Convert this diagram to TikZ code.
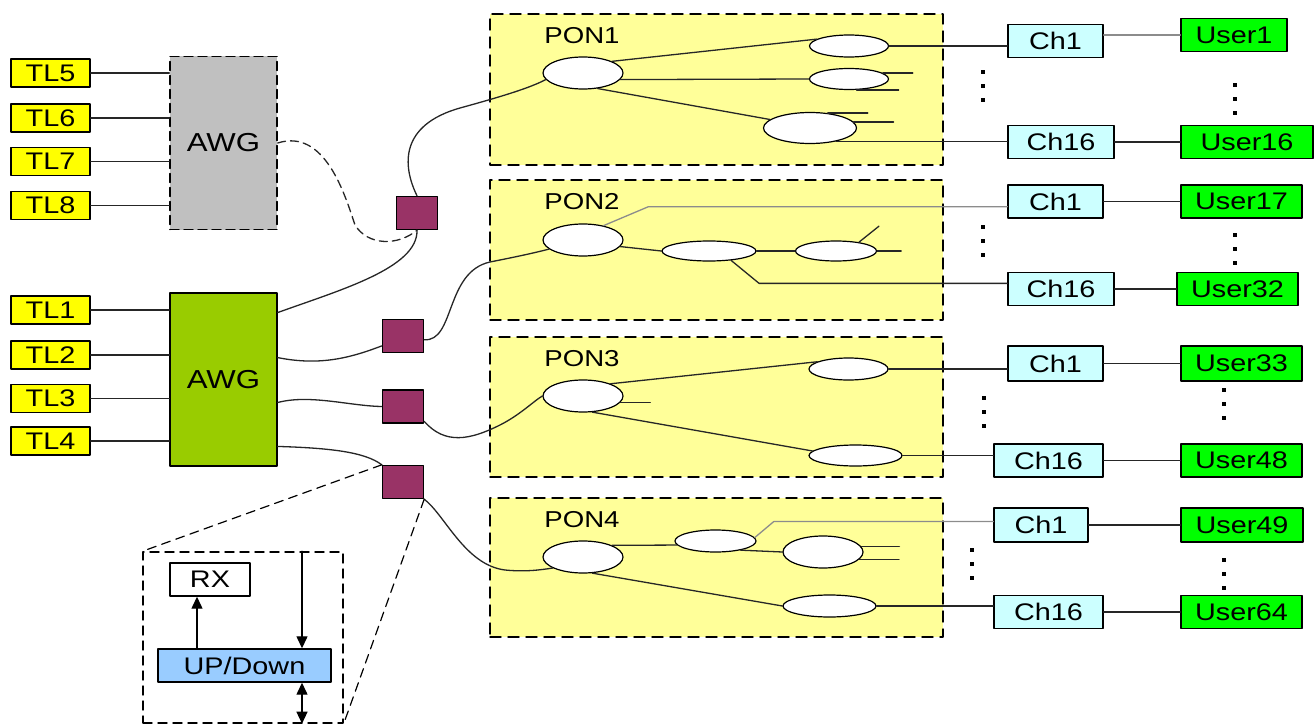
\documentclass[tikz,border=0pt]{standalone}
\usepackage{fontspec}
\newfontfamily\diagfont[FakeStretch=1.2]{Liberation Sans}
\usetikzlibrary{shapes.geometric,arrows.meta}

\definecolor{tlyellow}{HTML}{FFFF00}
\definecolor{awggray}{HTML}{C0C0C0}
\definecolor{awggreen}{HTML}{99CC00}
\definecolor{sqmagenta}{HTML}{993366}
\definecolor{ponyellow}{HTML}{FFFF99}
\definecolor{chcyan}{HTML}{CCFFFF}
\definecolor{usergreen}{HTML}{00FF00}
\definecolor{updownblue}{HTML}{99CCFF}

\tikzset{
  labelbox/.style={draw, line width=1.4pt, inner sep=0pt, font=\diagfont\fontsize{24}{28}\selectfont},
  tlbox/.style={labelbox, fill=tlyellow, minimum width=79pt, minimum height=28pt},
  awgbox/.style={labelbox, minimum width=107pt, minimum height=173pt, font=\diagfont\fontsize{26}{30}\selectfont},
  sqbox/.style={draw, line width=1.4pt, fill=sqmagenta, minimum width=41pt, minimum height=33pt, inner sep=0pt},
  ponbox/.style={draw, dash pattern=on 11pt off 7pt, line width=1.4pt, fill=ponyellow, minimum width=453pt, inner sep=0pt},
  ponlabel/.style={inner sep=0pt, font=\diagfont\fontsize{23}{28}\selectfont},
  splitter/.style 2 args={ellipse, draw, line width=1.2pt, fill=white, inner sep=0pt, minimum width=#1pt, minimum height=#2pt},
  chbox/.style={labelbox, fill=chcyan, minimum height=33pt},
  userbox/.style={labelbox, fill=usergreen, minimum height=33pt},
  fibre/.style={line width=1.3pt, black!85},
  fibregray/.style={line width=1.3pt, black!45},
  zoomline/.style={line width=1.2pt, dash pattern=on 9pt off 6pt},
  sig/.style={line width=1.3pt, -{Triangle[length=12pt,width=11pt]}},
  sigboth/.style={line width=1.3pt, {Triangle[length=12pt,width=11pt]}-{Triangle[length=12pt,width=11pt]}},
}

\begin{document}
\begin{tikzpicture}[x=1pt, y=-1pt, line cap=round, line join=round]

  %% ════ PON 区域（底层）════
  \node[ponbox, minimum height=151pt] (pon1) at (716.5,89.5) {};
  \node[ponbox, minimum height=140pt] (pon2) at (716.5,250) {};
  \node[ponbox, minimum height=140pt] (pon3) at (716.5,407) {};
  \node[ponbox, minimum height=139pt] (pon4) at (716.5,567.5) {};
  \node[ponlabel] (pon1lbl) at (582,36) {PON1};
  \node[ponlabel] (pon2lbl) at (582,202) {PON2};
  \node[ponlabel] (pon3lbl) at (582,359) {PON3};
  \node[ponlabel] (pon4lbl) at (582,520) {PON4};

  %% ════ 光源 TL 与两个 AWG ════
  \node[tlbox] (tl5) at (50.5,73) {TL5};
  \node[tlbox] (tl6) at (50.5,118) {TL6};
  \node[tlbox] (tl7) at (50.5,161.5) {TL7};
  \node[tlbox] (tl8) at (50.5,205.5) {TL8};
  \node[tlbox] (tl1) at (50.5,310) {TL1};
  \node[tlbox] (tl2) at (50.5,355) {TL2};
  \node[tlbox] (tl3) at (50.5,398.5) {TL3};
  \node[tlbox] (tl4) at (50.5,441) {TL4};
  \node[awgbox, fill=awggray, dash pattern=on 9pt off 5pt] (awga) at (223.5,143) {AWG};
  \node[awgbox, fill=awggreen] (awgb) at (223.5,379.5) {AWG};
  \foreach \t in {tl5,tl6,tl7,tl8} \draw[fibre] (\t.east) -- (\t.east -| awga.west);
  \foreach \t in {tl1,tl2,tl3,tl4} \draw[fibre] (\t.east) -- (\t.east -| awgb.west);

  %% ════ 方块（远端节点）════
  \node[sqbox] (sq1) at (417,213) {};
  \node[sqbox] (sq2) at (403,336) {};
  \node[sqbox] (sq3) at (403,406.5) {};
  \node[sqbox] (sq4) at (403,482) {};

  %% ════ 分光器（椭圆）════
  \node[splitter={80}{32}] (p1main) at (583,73) {};
  \node[splitter={79}{22}] (p1e1) at (849,46) {};
  \node[splitter={79}{21}] (p1e2) at (849,79) {};
  \node[splitter={93}{31}] (p1e3) at (810,128) {};
  \node[splitter={80}{32}] (p2main) at (583,240) {};
  \node[splitter={94}{20}] (p2e1) at (709,251) {};
  \node[splitter={81}{20}] (p2e2) at (836,251) {};
  \node[splitter={80}{32}] (p3main) at (583,396) {};
  \node[splitter={79}{22}] (p3e1) at (848.5,369) {};
  \node[splitter={93}{21}] (p3e2) at (855.5,455.5) {};
  \node[splitter={80}{32}] (p4main) at (583,557) {};
  \node[splitter={81}{22}] (p4e1) at (715.5,541) {};
  \node[splitter={80}{32}] (p4e2) at (823,552) {};
  \node[splitter={93}{22}] (p4e3) at (829.5,606) {};

  %% ════ 信道与用户 ════
  \node[chbox, minimum width=95pt] (ch1a) at (1055.5,41) {Ch1};
  \node[chbox, minimum width=106pt] (ch16a) at (1061,142) {Ch16};
  \node[chbox, minimum width=95pt] (ch1b) at (1055.5,201.5) {Ch1};
  \node[chbox, minimum width=106pt] (ch16b) at (1061,289) {Ch16};
  \node[chbox, minimum width=95pt, minimum height=35pt] (ch1c) at (1055.5,363.5) {Ch1};
  \node[chbox, minimum width=109pt] (ch16c) at (1048.5,460.5) {Ch16};
  \node[chbox, minimum width=94pt, minimum height=34pt] (ch1d) at (1041,525) {Ch1};
  \node[chbox, minimum width=109pt] (ch16d) at (1048.5,612) {Ch16};
  \node[userbox, minimum width=106pt] (user1) at (1234,35) {User1};
  \node[userbox, minimum width=132pt] (user16) at (1247,142) {User16};
  \node[userbox, minimum width=121pt] (user17) at (1241.5,201.5) {User17};
  \node[userbox, minimum width=121pt] (user32) at (1237.5,289) {User32};
  \node[userbox, minimum width=121pt, minimum height=35pt] (user33) at (1241.5,363.5) {User33};
  \node[userbox, minimum width=121pt] (user48) at (1241.5,460.5) {User48};
  \node[userbox, minimum width=122pt, minimum height=34pt] (user49) at (1242,525) {User49};
  \node[userbox, minimum width=121pt] (user64) at (1241.5,612) {User64};
  \draw[fibregray] (user1.west -| ch1a.east) -- (user1.west);
  \foreach \c/\u in {ch16a/user16, ch1b/user17, ch16b/user32, ch1c/user33, ch16c/user48, ch1d/user49, ch16d/user64}
    \draw[fibre] (\u.west -| \c.east) -- (\u.west);

  % 省略号：三个小方点
  \foreach \x/\y in {983/72, 983/227, 984/398, 972/550, 1235/85, 1235/235, 1224/390, 1224/560}
    \foreach \k in {0,1,2}
      \fill (\x-2.2, \y+14*\k-1.7) rectangle ++(4.4,3.4);

  %% ════ 光纤曲线 ════
  \draw[fibre, dash pattern=on 8pt off 5pt] (awga.east) .. controls (325,128) and (345,195) .. (355,225) .. controls (368,246) and (398,246) .. (sq1.south);
  \draw[fibre] (sq1.north) .. controls (402,165) and (400,125) .. (460,108) .. controls (500,97) and (530,88) .. (p1main.190);
  \draw[fibre] (sq1.south) .. controls (418,268) and (340,290) .. (awgb.51);
  \draw[fibre] (awgb.22) .. controls (320,366) and (350,358) .. (sq2.205);
  \draw[fibre] (sq2.350) .. controls (455,342) and (445,272) .. (490,262) .. controls (510,258) and (530,254) .. (p2main.195);
  \draw[fibre] (awgb.-23) .. controls (310,394) and (350,406) .. (sq3.west);
  \draw[fibre] (sq3.-35) .. controls (445,445) and (470,440) .. (500,425) .. controls (520,415) and (535,400) .. (p3main.west);
  \draw[fibre] (awgb.-51) .. controls (330,448) and (365,452) .. (sq4.north west);
  \draw[fibre] (sq4.south east) .. controls (445,515) and (465,565) .. (505,570) .. controls (525,572) and (540,570) .. (p4main.200);

  %% ════ PON1 内部 ════
  \draw[fibre] (p1main.22) -- (p1e1.168);
  \draw[fibre] (p1main.-10) -- (p1e2.west);
  \draw[fibre] (p1main.-47) -- (p1e3.168);
  \draw[fibre] (p1e2.10) -- ++(30,0);
  \draw[fibre] (p1e2.-55) -- ++(42,0);
  \draw[fibre] (p1e3.40) -- ++(40,0);
  \draw[fibre] (p1e3.8) -- ++(40,0);
  \draw[fibre] (p1e1.east) -- (p1e1.east -| ch1a.west);
  \draw[fibre] (p1e3.-27) -- (p1e3.-27 -| ch16a.west);

  %% ════ PON2 内部 ════
  \draw[fibregray] (p2main.35) -- ++(45,-19) coordinate (p2bend) -- (p2bend -| ch1b.west);
  \draw[fibre] (p2main.-10) -- (p2e1.west);
  \draw[fibre] (p2e1.east) -- (p2e2.west);
  \draw[fibre] (p2e2.21) -- ++(20,-16);
  \draw[fibre] (p2e2.east) -- ++(24,0);
  \draw[fibre] (p2e1.-23) -- ++(28,23) coordinate (p2bend2) -- (p2bend2 -| ch16b.west);

  %% ════ PON3 内部 ════
  \draw[fibre] (p3main.24) -- (p3e1.167);
  \draw[fibre] (p3main.-10) -- ++(30,0);
  \draw[fibre] (p3main.-60) -- (p3e2.174);
  \draw[fibre] (p3e1.east) -- (p3e1.east -| ch1c.west);
  \draw[fibre] (p3e2.east) -- (p3e2.east -| ch16c.west);

  %% ════ PON4 内部 ════
  \draw[fibre] (p4main.22) -- (p4e1.186);
  \draw[fibregray] (p4e1.5) -- ++(19,-16) coordinate (p4bend) -- (p4bend -| ch1d.west);
  \draw[fibre] (p4e1.-20) -- (p4e2.west);
  \draw[fibre] (p4e2.8) -- ++(38,0);
  \draw[fibre] (p4e2.-12) -- ++(40,0);
  \draw[fibre] (p4main.-60) -- (p4e3.west);
  \draw[fibre] (p4e3.east) -- (p4e3.east -| ch16d.west);

  %% ════ 放大框（收发模块）════
  \node[draw, zoomline, line width=1.4pt, minimum width=200pt, minimum height=171pt, inner sep=0pt] (inset) at (243,637.5) {};
  \node[labelbox, fill=white, minimum width=80pt, minimum height=33pt] (rx) at (210,579.5) {RX};
  \node[labelbox, fill=updownblue, minimum width=173pt, minimum height=33pt] (updown) at (244.5,665.5) {UP/Down};
  \draw[sig] ([xshift=-47.5pt]updown.north) -- ([xshift=-13pt]rx.south);
  \draw[sig] ([xshift=59pt]inset.north) -- ([xshift=57.5pt]updown.north);
  \draw[sigboth] ([xshift=57.5pt]updown.south) -- ([xshift=59pt]inset.south);
  \draw[zoomline] (sq4.north west) -- (inset.north west);
  \draw[zoomline] (sq4.south east) -- (inset.south east);

  % 钉死画布
  \pgfresetboundingbox
  \path[use as bounding box] (0,0) rectangle (1315,725);
\end{tikzpicture}
\end{document}
